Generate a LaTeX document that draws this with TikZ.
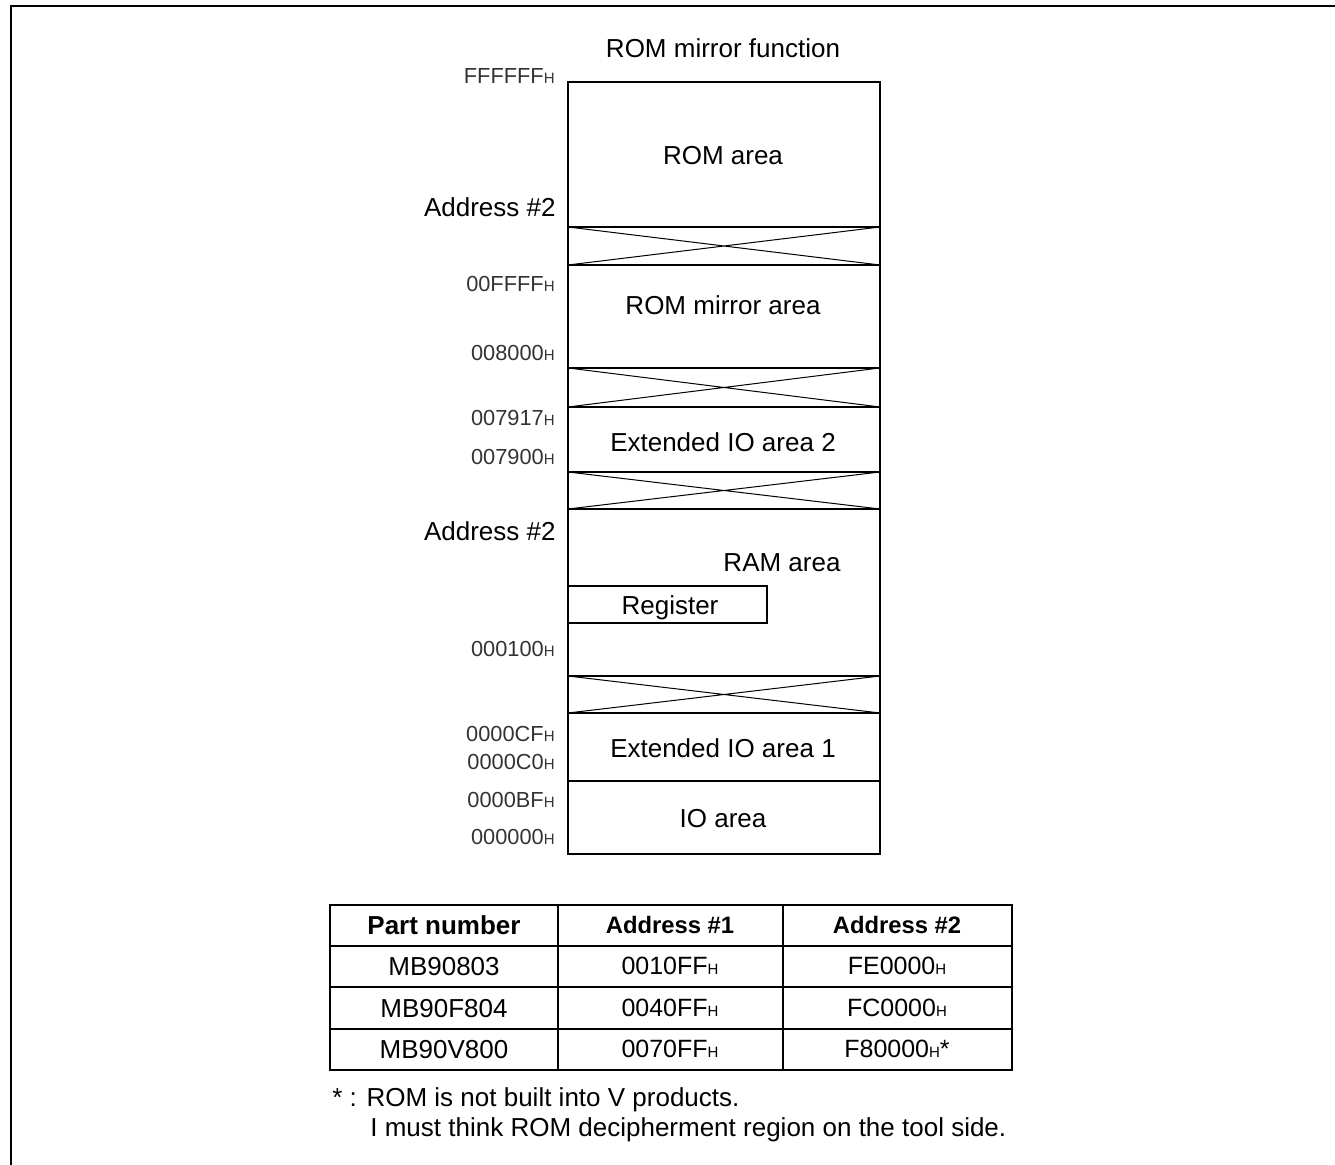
\documentclass[tikz,border=0pt]{standalone}
\usepackage{fontspec}
\setmainfont{Liberation Sans}
\usetikzlibrary{positioning}

% small suffix H after hex values
\newcommand{\hx}[1]{#1{\fontsize{7.5}{8}\selectfont H}}

\tikzset{
  frameline/.style={line width=1pt},
  mapline/.style={line width=1.3pt},
  xline/.style={line width=0.5pt},
  areatxt/.style={inner sep=0pt, font=\fontsize{13}{15}\selectfont, text height=9.4pt, text depth=0pt},
  sidetxt/.style={areatxt, anchor=east},
  addrtxt/.style={anchor=east, inner sep=0pt, text=black!80, font=\fontsize{10.9}{12}\selectfont, text height=7.8pt, text depth=0pt},
  celltxt/.style={areatxt},
  hextxt/.style={inner sep=0pt, font=\fontsize{12.5}{14}\selectfont, text height=9pt, text depth=0pt},
  headtxt/.style={inner sep=0pt, font=\bfseries\fontsize{11.9}{14}\selectfont, text height=8.6pt, text depth=0pt},
  notetxt/.style={areatxt, anchor=west},
}

\begin{document}
\begin{tikzpicture}[x=0.5pt, y=-0.5pt]
  \useasboundingbox (0,0) rectangle (1335,1165);

  % outer frame (top and left only)
  \draw[frameline] (11,1165) -- (11,6) -- (1335,6);

  \node[areatxt] (title) at (723,48) {ROM mirror function};

  % memory map
  \foreach \ya/\yb in {82/227, 227/265, 265/368, 368/407, 407/472,
                       472/509, 509/676, 676/713, 713/781, 781/854}
    \draw[mapline] (568,\ya) rectangle (880,\yb);
  % unused gaps
  \foreach \ya/\yb in {227/265, 368/407, 472/509, 676/713}
    \draw[xline] (568,\ya) -- (880,\yb) (568,\yb) -- (880,\ya);
  \draw[mapline] (568,586) rectangle (767,623);

  \node[areatxt] (rom)    at (723,155) {ROM area};
  \node[areatxt] (mirror) at (723,305) {ROM mirror area};
  \node[areatxt] (extio2) at (723,442) {Extended IO area 2};
  \node[areatxt] (ram)    at (782,562) {RAM area};
  \node[areatxt] (reg)    at (670,605) {Register};
  \node[areatxt] (extio1) at (723,748) {Extended IO area 1};
  \node[areatxt] (io)     at (723,818) {IO area};

  % addresses on the left
  \node[addrtxt] (aFFFFFF) at (555,76)  {\hx{FFFFFF}};
  \node[sidetxt] (adrA)    at (556,207) {Address \#2};
  \node[addrtxt] (a00FFFF) at (555,284) {\hx{00FFFF}};
  \node[addrtxt] (a008000) at (555,353) {\hx{008000}};
  \node[addrtxt] (a007917) at (555,418) {\hx{007917}};
  \node[addrtxt] (a007900) at (555,457) {\hx{007900}};
  \node[sidetxt] (adrB)    at (556,531) {Address \#2};
  \node[addrtxt] (a000100) at (555,649) {\hx{000100}};
  \node[addrtxt] (a0000CF) at (555,734) {\hx{0000CF}};
  \node[addrtxt] (a0000C0) at (555,762) {\hx{0000C0}};
  \node[addrtxt] (a0000BF) at (555,800) {\hx{0000BF}};
  \node[addrtxt] (a000000) at (555,837) {\hx{000000}};

  % part number table
  \draw[mapline] (330,905) rectangle (1012,1070);
  \foreach \x in {558,783}
    \draw[mapline] (\x,905) -- (\x,1070);
  \foreach \y in {946,987,1029}
    \draw[mapline] (330,\y) -- (1012,\y);

  \node[headtxt, font=\bfseries\fontsize{13}{15}\selectfont, text height=9.4pt] (hpart) at (444,925) {Part number};
  \node[headtxt] (hadr1) at (670,925) {Address \#1};
  \node[headtxt] (hadr2) at (897,925) {Address \#2};

  \node[celltxt] (p1) at (444,966)  {MB90803};
  \node[celltxt] (p2) at (444,1008) {MB90F804};
  \node[celltxt] (p3) at (444,1049) {MB90V800};
  \node[hextxt] (b1) at (670,966)  {\hx{0010FF}};
  \node[hextxt] (b2) at (670,1008) {\hx{0040FF}};
  \node[hextxt] (b3) at (670,1049) {\hx{0070FF}};
  \node[hextxt] (c1) at (897,966)  {\hx{FE0000}};
  \node[hextxt] (c2) at (897,1008) {\hx{FC0000}};
  \node[hextxt] (c3) at (897,1049) {\hx{F80000}*};

  % footnote
  \node[notetxt] (note1) at (332,1097) {* : ROM is not built into V products.};
  \node[notetxt] (note2) at (370,1127) {I must think ROM decipherment region on the tool side.};
\end{tikzpicture}
\end{document}
